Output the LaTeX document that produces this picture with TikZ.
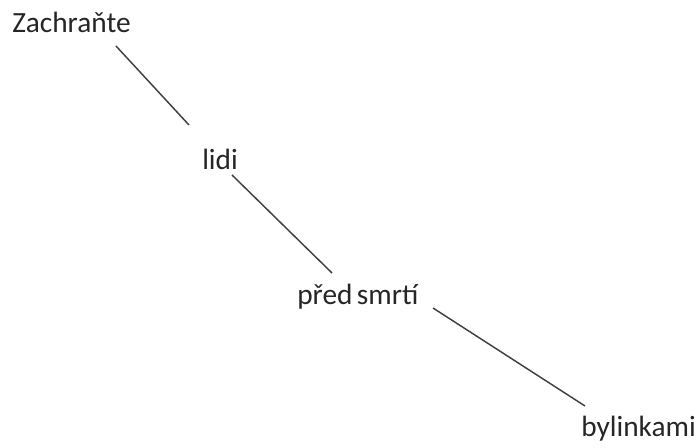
\documentclass[tikz,border=0pt]{standalone}
\usepackage{fontspec}
\setmainfont{Carlito}
\begin{document}
\begin{tikzpicture}[x=0.75pt,y=-0.75pt,
  word/.style={anchor=base west,inner sep=0pt,font=\fontsize{22}{26}\selectfont,text=black!85},
  link/.style={draw=black!75,line width=1.1pt}]
\useasboundingbox (0,0) rectangle (700,448);
\node[word] (z) at (12,33) {Zachraňte};
\node[word] (l) at (202,170) {lidi};
\node[word] (p) at (297,305) {před\hspace{0.15em}smrtí};
\node[word] (b) at (581,437) {bylinkami};
\coordinate (z1) at (116,46);
\coordinate (l0) at (189,125);
\coordinate (l1) at (232,175);
\coordinate (p0) at (332,273);
\coordinate (p1) at (433,308);
\coordinate (b0) at (585,406);
\draw[link] (z1) -- (l0);
\draw[link] (l1) -- (p0);
\draw[link] (p1) -- (b0);
\end{tikzpicture}
\end{document}
